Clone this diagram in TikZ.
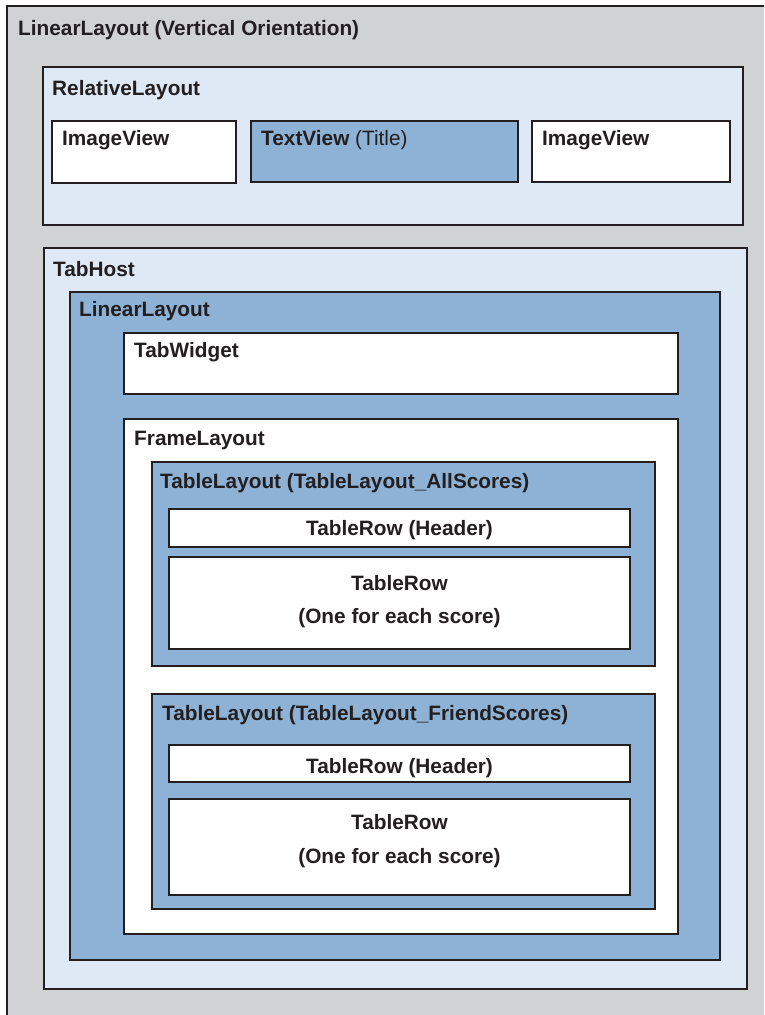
\documentclass[tikz,border=0pt]{standalone}
\usepackage{fontspec}
\setmainfont{Liberation Sans}
\definecolor{outergray}{HTML}{D1D2D4}
\definecolor{lightblue}{HTML}{DEE9F5}
\definecolor{midblue}{HTML}{8DB2D5}
\definecolor{edge}{HTML}{231F20}
\begin{document}
\begin{tikzpicture}[x=1pt,y=-1pt,
  box/.style={draw=edge,line width=2.6pt},
  lbl/.style={anchor=base west,inner sep=0pt,font=\fontsize{20.8}{22}\selectfont\bfseries,text=edge},
  clbl/.style={anchor=base,inner sep=0pt,font=\fontsize{20.8}{22}\selectfont\bfseries,text=edge}]
\useasboundingbox (0,0) rectangle (764,1015);
\clip (0,0) rectangle (764,1015);
\fill[white] (0,0) rectangle (764,1015);
% outer
\draw[box,fill=outergray] (7,6) rectangle (800,1050);
\node[lbl] (outer) at (18,35) {LinearLayout (Vertical Orientation)};
% relative layout
\draw[box,fill=lightblue] (43,67) rectangle (743,225);
\node[lbl] (rel) at (52,95) {RelativeLayout};
\draw[box,fill=white] (52,121) rectangle (236,183);
\node[lbl] (iv1) at (62,145) {ImageView};
\draw[box,fill=midblue] (251,121) rectangle (518,182);
\node[lbl] (tv) at (261,145) {TextView \mdseries(Title)};
\draw[box,fill=white] (532,121) rectangle (730,182);
\node[lbl] (iv2) at (542,145) {ImageView};
% tabhost
\draw[box,fill=lightblue] (44,248) rectangle (747,989);
\node[lbl] (th) at (53,276) {TabHost};
\draw[box,fill=midblue] (70,292) rectangle (720,960);
\node[lbl] (ll) at (79,316) {LinearLayout};
\draw[box,fill=white] (124,333) rectangle (678,394);
\node[lbl] (tw) at (134,357) {TabWidget};
\draw[box,fill=white] (124,419) rectangle (678,934);
\node[lbl] (fl) at (134,445) {FrameLayout};
% table 1
\draw[box,fill=midblue] (152,462) rectangle (655,666);
\node[lbl] (t1) at (160,488) {TableLayout (TableLayout\_AllScores)};
\draw[box,fill=white] (169,509) rectangle (630,547);
\node[clbl] (h1) at (399.5,535) {TableRow (Header)};
\draw[box,fill=white] (169,557) rectangle (630,649);
\node[clbl] (r1a) at (399.5,590) {TableRow};
\node[clbl] (r1b) at (399.5,623) {(One for each score)};
% table 2
\draw[box,fill=midblue] (152,694) rectangle (655,909);
\node[lbl] (t2) at (162,720) {TableLayout (TableLayout\_FriendScores)};
\draw[box,fill=white] (169,745) rectangle (630,782);
\node[clbl] (h2) at (399.5,773) {TableRow (Header)};
\draw[box,fill=white] (169,799) rectangle (630,895);
\node[clbl] (r2a) at (399.5,829) {TableRow};
\node[clbl] (r2b) at (399.5,863) {(One for each score)};
\end{tikzpicture}
\end{document}
